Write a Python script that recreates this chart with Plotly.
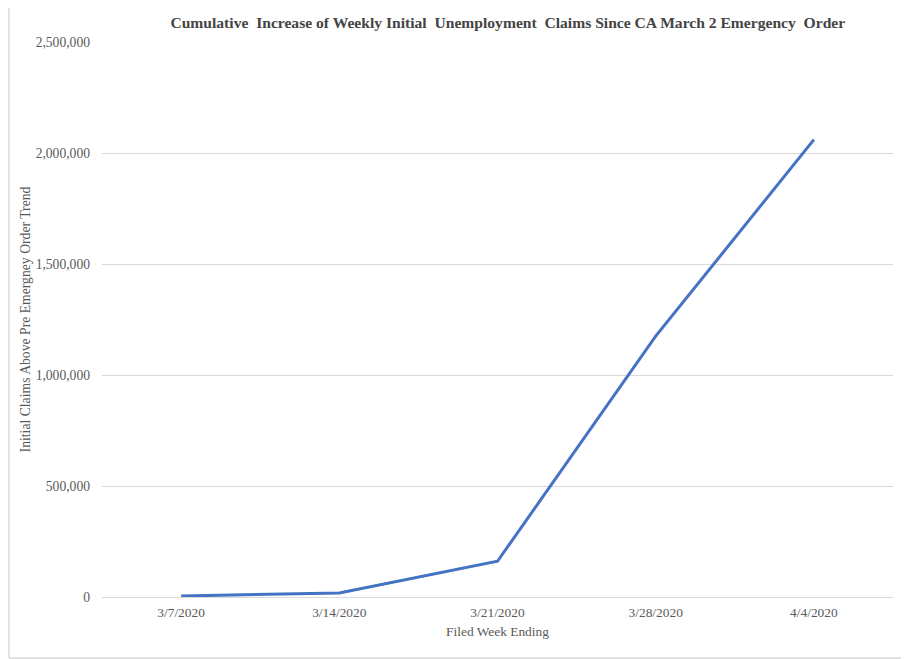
import plotly.graph_objects as go

weeks = ["3/7/2020", "3/14/2020", "3/21/2020", "3/28/2020", "4/4/2020"]
claims = [4500, 18000, 161000, 1175000, 2060000]
y_ticks = [0, 500000, 1000000, 1500000, 2000000, 2500000]

title_text = "Cumulative  Increase of Weekly Initial  Unemployment  Claims Since CA March 2 Emergency  Order"
x_title = "Filed Week Ending"
y_title = "Initial Claims Above Pre Emergney Order Trend"

font_family = "Liberation Serif, Times New Roman, serif"
text_color = "#595959"

W, H = 901, 651
L, R, T, B = 94, 16, 34, 62

fig = go.Figure()
fig.add_trace(go.Scatter(
    x=weeks, y=claims, mode="lines",
    line=dict(color="#4472C4", width=3),
    showlegend=False, hoverinfo="x+y",
))

fig.update_layout(
    width=W, height=H,
    margin=dict(l=L, r=R, t=T, b=B),
    paper_bgcolor="white", plot_bgcolor="white",
    font=dict(family=font_family, color=text_color, size=13),
    title=dict(
        text="<b>" + title_text + "</b>",
        x=0.513, xref="paper", xanchor="center",
        y=1 - 15 / H, yref="container", yanchor="middle",
        font=dict(family=font_family, size=15.6, color="#444444"),
    ),
    xaxis=dict(
        type="category", range=[-0.5, 4.5],
        showgrid=False, zeroline=False, showline=False,
        ticks="", ticklabelstandoff=6,
        tickfont=dict(size=13.4, color=text_color),
        title=dict(text=x_title, font=dict(size=13.4, color=text_color), standoff=7),
    ),
    yaxis=dict(
        range=[0, 2500000], tickvals=y_ticks, tickformat=",d",
        showgrid=True, gridcolor="#d9d9d9", gridwidth=1,
        zeroline=True, zerolinecolor="#d9d9d9", zerolinewidth=1,
        showline=False, ticks="", ticklabelstandoff=11,
        tickfont=dict(size=13.6, color=text_color),
        title=dict(text=y_title, font=dict(size=13.7, color=text_color), standoff=1),
    ),
)

# light gray outer border (left, right, bottom)
pw = W - L - R
ph = H - T - B
border = dict(color="#d9d9d9", width=1.5)
x_left = (-L + 1) / pw
x_right = (W - 1 - L) / pw
y_bot = -(B - 1) / ph
y_top = (H - B) / ph
fig.add_shape(type="line", xref="paper", yref="paper", x0=x_left, x1=x_left,
              y0=y_bot, y1=y_top, line=border)
fig.add_shape(type="line", xref="paper", yref="paper", x0=x_right, x1=x_right,
              y0=y_bot, y1=y_top, line=border)
fig.add_shape(type="line", xref="paper", yref="paper", x0=x_left, x1=x_right,
              y0=y_bot, y1=y_bot, line=border)

fig.write_html("out.html")
